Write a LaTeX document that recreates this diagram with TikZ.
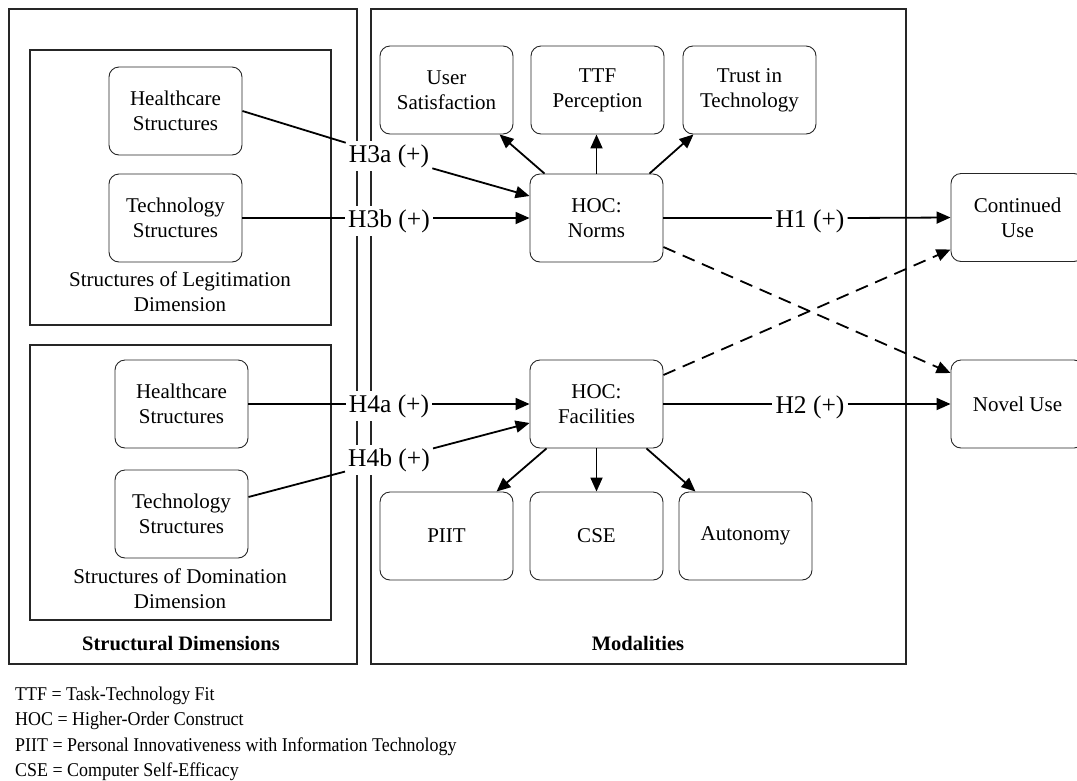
\documentclass[tikz,border=0pt]{standalone}
\usepackage{fontspec}
\setmainfont{Liberation Serif}
\newfontfamily\legfam[FakeStretch=0.92]{Liberation Serif}
\usetikzlibrary{arrows.meta}
\newcommand\boxfont{\fontsize{21}{25}\selectfont}
\newcommand\hypfont{\fontsize{25.5}{28}\selectfont}
\newcommand\legfont{\legfam\fontsize{19.5}{24}\selectfont}
\tikzset{
  cbox/.style={draw=black!85, line width=0.9pt, rounded corners=10pt,
    minimum width=133pt, minimum height=88pt, align=center, font=\boxfont, inner sep=0pt},
  frame/.style={draw=black!85, line width=1.3pt},
  hyp/.style={fill=white, font=\hypfont, inner sep=3pt},
  grp/.style={align=center, font=\boxfont, inner sep=0pt},
  conn/.style={line width=1.8pt},
  arr/.style={line width=1.8pt, -{Triangle[length=14pt,width=12pt]}},
  darr/.style={arr, dash pattern=on 13pt off 8pt},
  leg/.style={anchor=base west, font=\legfont, inner sep=0pt}
}
\begin{document}
\begin{tikzpicture}[x=1pt,y=-1pt]
\useasboundingbox (0,0) rectangle (1077,780);
% frames
\draw[frame] (9,9) rectangle (357,664);
\draw[frame] (371,9) rectangle (906,664);
\draw[frame] (30,50) rectangle (331,325);
\draw[frame] (30,345) rectangle (331,620);
% left boxes
\node[cbox] (HS1) at (175.5,111) {Healthcare\\Structures};
\node[cbox] (TS1) at (175.5,218) {Technology\\Structures};
\node[grp] (LEG) at (180,292) {Structures of Legitimation\\Dimension};
\node[cbox] (HS2) at (181.5,404) {Healthcare\\Structures};
\node[cbox] (TS2) at (181.5,514) {Technology\\Structures};
\node[grp] (DOM) at (180,589) {Structures of Domination\\Dimension};
\node[anchor=base, font=\fontsize{20.5}{24}\selectfont\bfseries, inner sep=0pt] (SD) at (181,650) {Structural Dimensions};
\node[anchor=base, font=\fontsize{20.5}{24}\selectfont\bfseries, inner sep=0pt] (MOD) at (638,650) {Modalities};
% modalities boxes
\node[cbox] (US) at (446.5,90) {User\\Satisfaction};
\node[cbox] (TTF) at (597.5,90) {TTF\\Perception};
\node[cbox] (TR) at (749.5,90) {Trust in\\Technology};
\node[cbox] (NO) at (596.5,218) {HOC:\\Norms};
\node[cbox] (FA) at (596.5,404) {HOC:\\Facilities};
\node[cbox] (PI) at (446.5,536) {PIIT};
\node[cbox] (CS) at (596.5,536) {CSE};
\node[cbox] (AU) at (745.5,536) {Autonomy};
% outcomes
\node[cbox] (CU) at (1017.5,217.5) {Continued\\Use};
\node[cbox] (NU) at (1017.5,404) {Novel Use};
% hypothesis labels
\node[hyp] (H3a) at (389,156) {H3a (+)};
\node[hyp] (H3b) at (389,221) {H3b (+)};
\node[hyp] (H4a) at (389,406) {H4a (+)};
\node[hyp] (H4b) at (389,460) {H4b (+)};
\node[hyp] (H1) at (810,221) {H1 (+)};
\node[hyp] (H2) at (810,407) {H2 (+)};
% connectors
\draw[conn] (HS1.east) -- (H3a);
\draw[arr] (H3a) -- ([yshift=22pt]NO.west);
\draw[conn] (TS1.east) -- (TS1.east -| H3b.west);
\draw[arr] (H3b.east |- NO.west) -- (NO.west);
\draw[conn] (HS2.east) -- (HS2.east -| H4a.west);
\draw[arr] (H4a.east |- FA.west) -- (FA.west);
\draw[conn] ([yshift=17pt]TS2.east) -- (H4b);
\draw[arr] (H4b) -- ([yshift=-19pt]FA.west);
\draw[conn] (NO.east) -- (NO.east -| H1.west);
\draw[arr] (H1.east |- NO.east) -- (CU.west);
\draw[conn] (FA.east) -- (FA.east -| H2.west);
\draw[arr] (H2.east |- FA.east) -- (NU.west);
\draw[darr] ([yshift=-29pt]NO.east) -- ([yshift=31pt]NU.west);
\draw[darr] ([yshift=29pt]FA.east) -- ([yshift=-32pt]CU.west);
% HOC reflective arrows
\draw[arr] ([xshift=-52pt]NO.north) -- ([xshift=53pt]US.south);
\draw[arr] (NO.north) -- (TTF.south -| NO.north);
\draw[arr] ([xshift=53pt]NO.north) -- ([xshift=-56pt]TR.south);
\draw[arr] ([xshift=-50pt]FA.south) -- ([xshift=50pt]PI.north);
\draw[arr] (FA.south) -- (CS.north -| FA.south);
\draw[arr] ([xshift=50pt]FA.south) -- ([xshift=-50pt]AU.north);
% legend
\node[leg] (L1) at (15,700) {TTF = Task-Technology Fit};
\node[leg] (L2) at (15,725) {HOC = Higher-Order Construct};
\node[leg] (L3) at (15,751) {PIIT = Personal Innovativeness with Information Technology};
\node[leg] (L4) at (15,776) {CSE = Computer Self-Efficacy};
\end{tikzpicture}
\end{document}
